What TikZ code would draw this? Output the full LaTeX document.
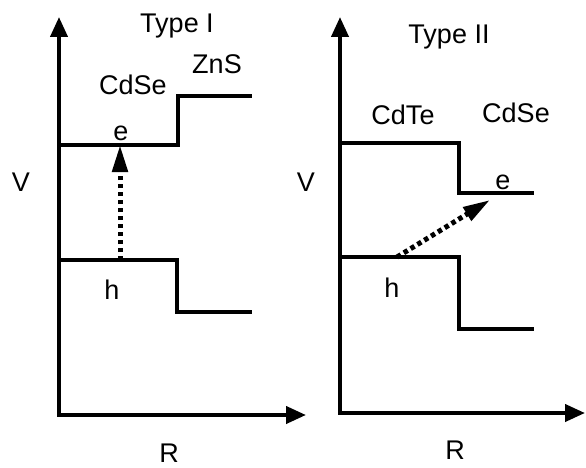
\documentclass[tikz,border=0pt]{standalone}
\usepackage{fontspec}
\setmainfont{Liberation Sans}
\usetikzlibrary{arrows.meta}

\begin{document}
\begin{tikzpicture}[x=1pt, y=-1pt,
    lbl/.style={font=\fontsize{27}{30}\selectfont, inner sep=0pt},
    axis/.style={line width=4pt, {Triangle[length=20pt,width=17pt]}-{Triangle[length=20pt,width=17pt]}},
    band/.style={line width=3.5pt},
    jump/.style={line width=5pt, dash pattern=on 4.5pt off 3.5pt, -{Triangle[length=27pt,width=15pt]}}
]
    \useasboundingbox (0,0) rectangle (586,468);

    % Type I
    \coordinate (top1) at (59,17);
    \coordinate (o1) at (59,415);
    \coordinate (end1) at (306,415);
    \draw[axis] (top1) -- (o1) -- (end1);
    \draw[band] (59,145) -- (178,145) -- (178,96) -- (252,96);
    \draw[band] (59,260) -- (177,260) -- (177,312) -- (252,312);
    \coordinate (h1) at (120,260);
    \coordinate (e1) at (120,145);
    \draw[jump] (h1) -- (e1);

    \node[lbl] (type1) at (177,26) {Type I};
    \node[lbl] (zns) at (217,64) {ZnS};
    \node[lbl] (cdse1) at (133,85) {CdSe};
    \node[lbl] (elec1) at (121,133) {e};
    \node[lbl] (hole1) at (112,290) {h};
    \node[lbl] (volt1) at (21,182) {V};
    \node[lbl] (rad1) at (169,453) {R};

    % Type II
    \coordinate (top2) at (340,17);
    \coordinate (o2) at (340,413);
    \coordinate (end2) at (585,413);
    \draw[axis] (top2) -- (o2) -- (end2);
    \draw[band] (340,143) -- (459,143) -- (459,193) -- (534,193);
    \draw[band] (340,257) -- (459,257) -- (459,329) -- (534,329);
    \coordinate (h2) at (397,257);
    \coordinate (e2) at (490,200);
    \draw[jump] (h2) -- (e2);

    \node[lbl] (type2) at (449,37) {Type II};
    \node[lbl] (cdte) at (403,115) {CdTe};
    \node[lbl] (cdse2) at (516,113) {CdSe};
    \node[lbl] (elec2) at (503,182) {e};
    \node[lbl] (hole2) at (392,288) {h};
    \node[lbl] (volt2) at (306,182) {V};
    \node[lbl] (rad2) at (455,450) {R};
\end{tikzpicture}
\end{document}
